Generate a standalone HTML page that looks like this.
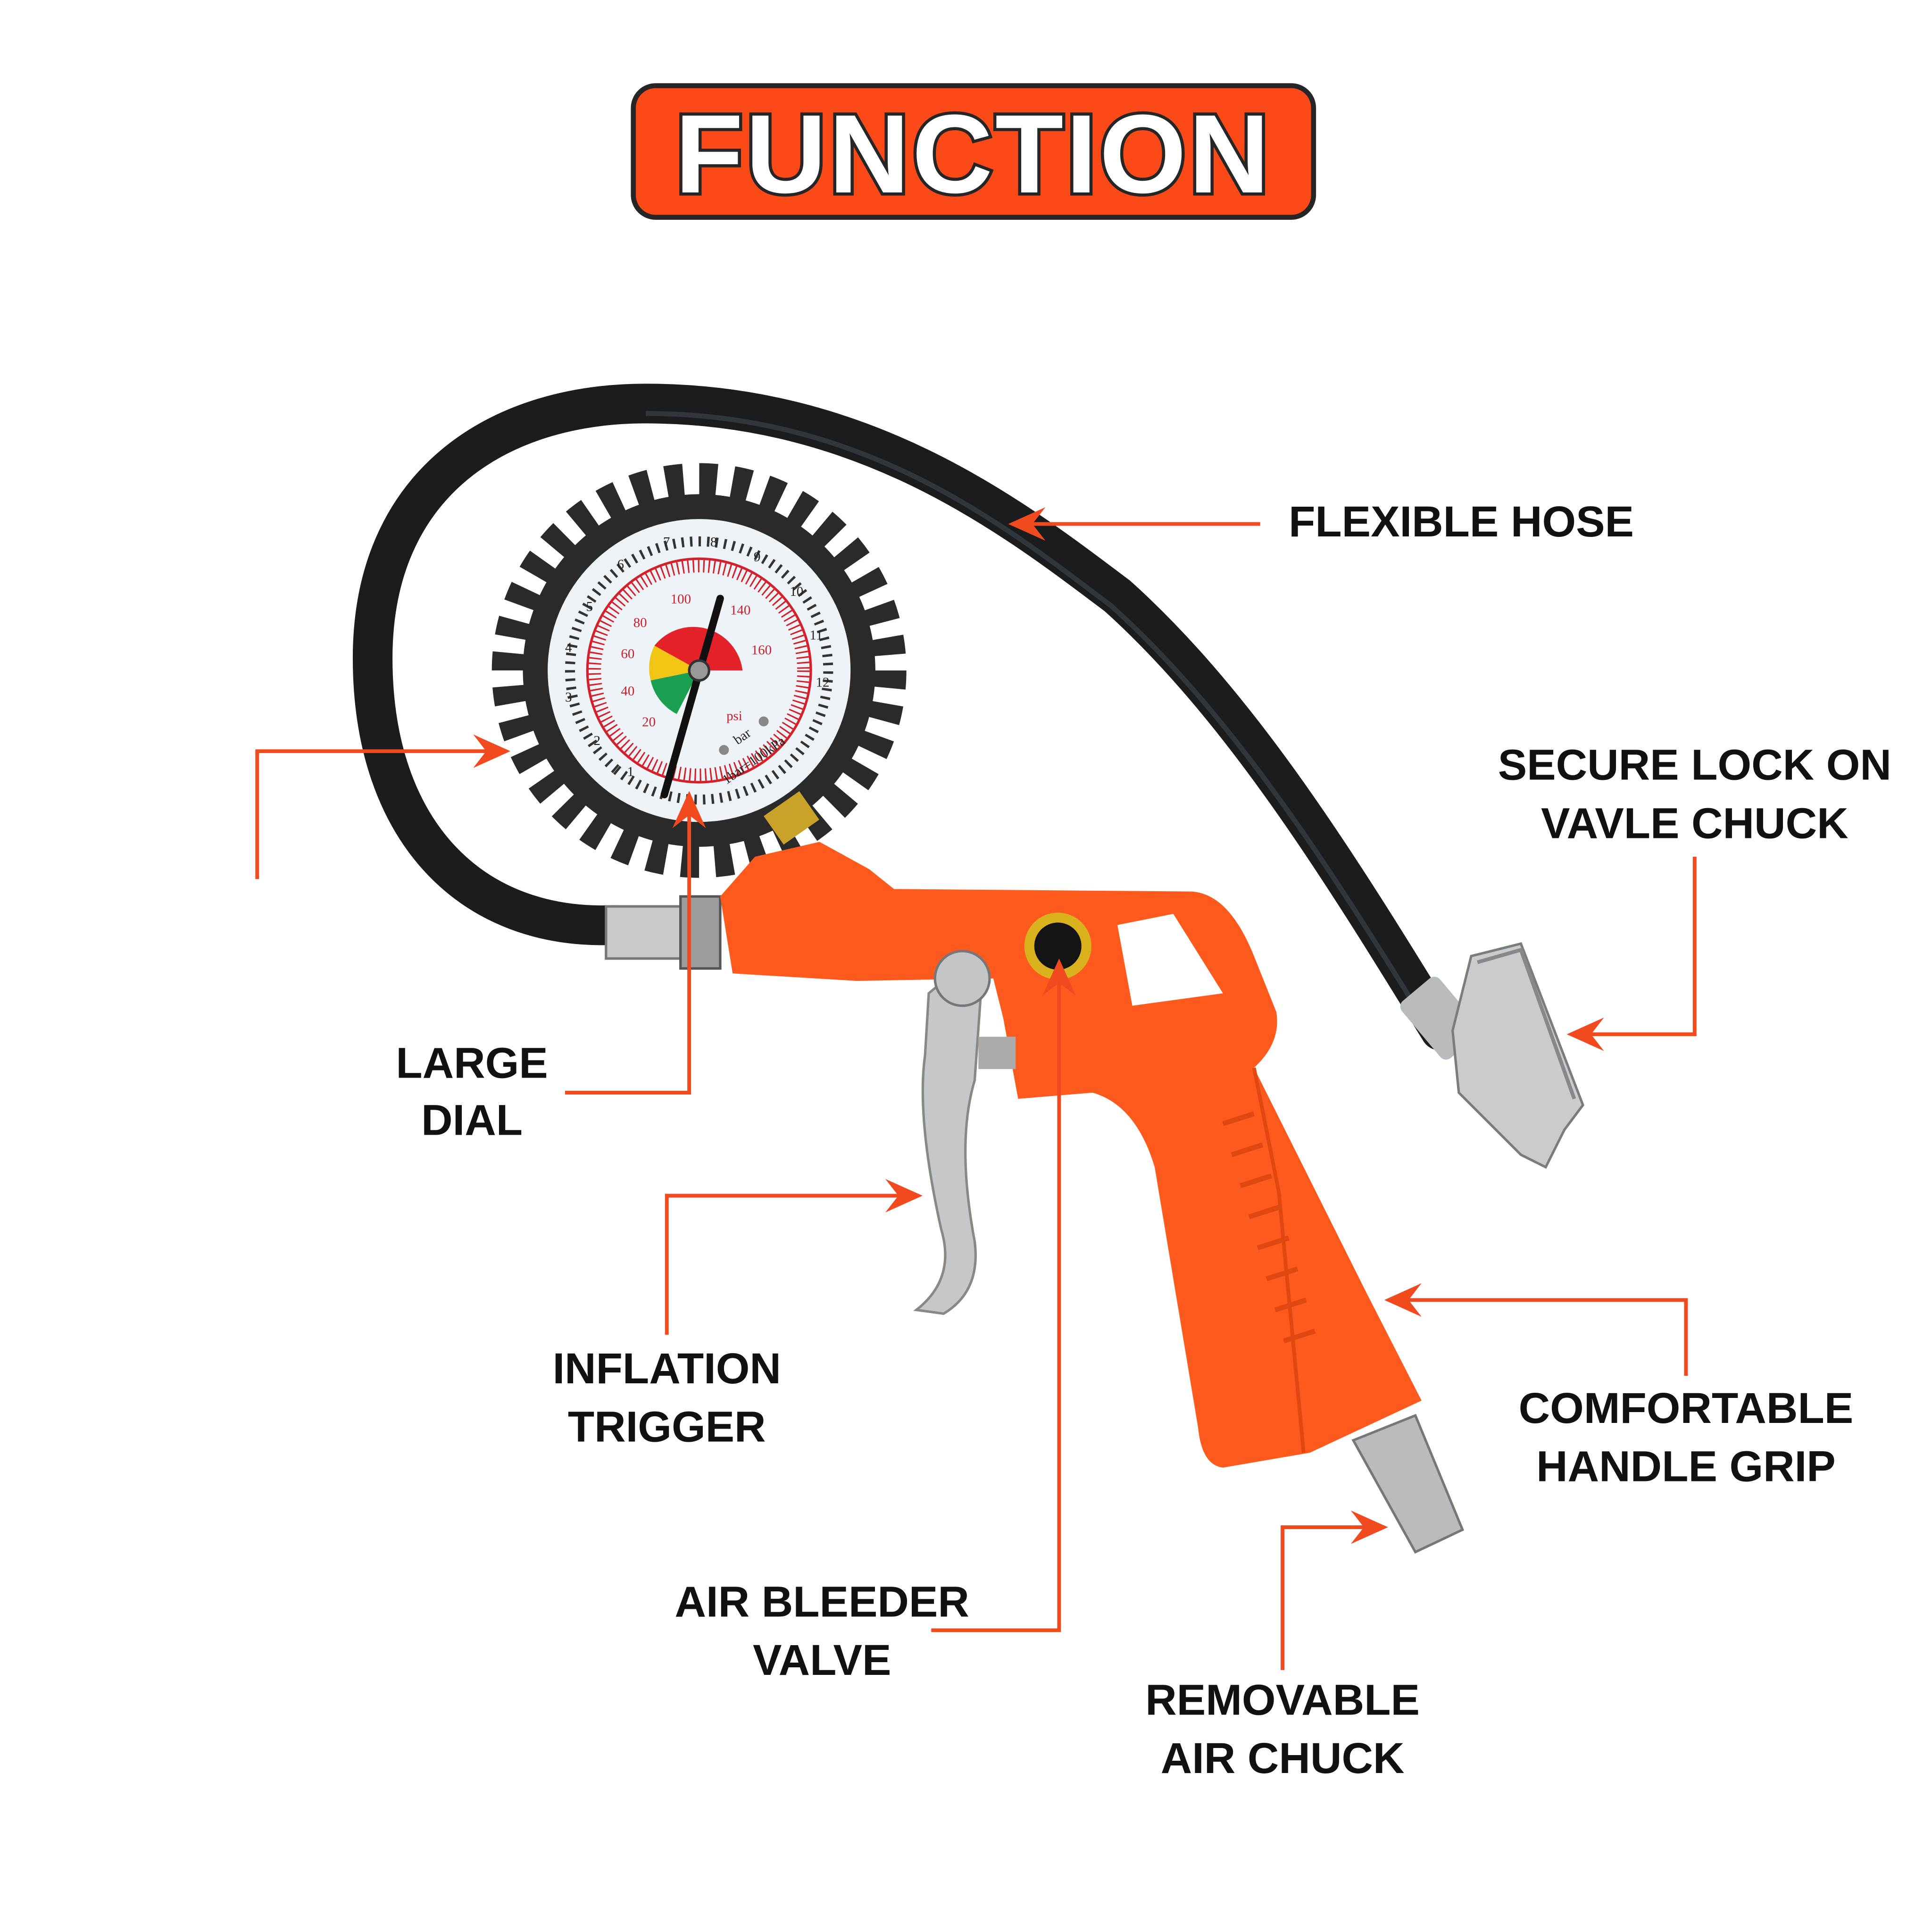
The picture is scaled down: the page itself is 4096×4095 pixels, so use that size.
<!DOCTYPE html>
<html><head><style>html,body{margin:0;padding:0;background:#fff}svg{display:block}</style></head>
<body>
<svg width="4096" height="4095" viewBox="0 0 1556 1556" xmlns="http://www.w3.org/2000/svg">
<defs>
<marker id="ah" viewBox="0 0 20 20" refX="18" refY="10" markerWidth="30" markerHeight="30" markerUnits="userSpaceOnUse" orient="auto">
<path d="M0,1 L20,10 L0,19 L7,10 Z" fill="#f04a1e"/></marker>
</defs>
<rect width="1556" height="1556" fill="#fff"/>
<!-- title -->
<rect x="510" y="69" width="548" height="106" rx="18" fill="#fb4a17" stroke="#262626" stroke-width="4"/>
<text x="784" y="155" text-anchor="middle" font-family="Liberation Sans, sans-serif" font-weight="bold" font-size="90" fill="#fff" stroke="#262626" stroke-width="5" paint-order="stroke" letter-spacing="2">FUNCTION</text>
<!-- hose -->
<path d="M495,745 C380,750 300,670 300,530 C300,390 400,325 520,325 C700,325 820,420 900,480 C1000,570 1080,700 1160,830" fill="none" stroke="#1a1c1e" stroke-width="32" stroke-linecap="round"/>
<path d="M520,333 C700,333 815,428 895,488 C995,578 1075,705 1152,830" fill="none" stroke="#3d4a52" stroke-width="4" opacity="0.6"/>
<!-- hose end chuck -->
<rect x="1130" y="800" width="60" height="40" rx="6" fill="#b9bcbe" transform="rotate(50 1160 820)"/>
<path d="M1185,770 L1225,760 L1275,890 L1260,910 L1245,940 L1225,930 L1175,880 L1170,830 Z" fill="#c9ccce" stroke="#7a7d80" stroke-width="2"/>
<path d="M1190,775 L1225,765 L1268,885" fill="none" stroke="#888" stroke-width="3"/>
<!-- left connector -->
<rect x="488" y="730" width="60" height="42" fill="#c6c8ca" stroke="#777" stroke-width="2"/>
<rect x="548" y="722" width="32" height="58" fill="#9a9c9e" stroke="#555" stroke-width="2"/>
<!-- gauge -->
<circle cx="563" cy="540" r="152" fill="none" stroke="#2a2a2a" stroke-width="30" stroke-dasharray="14 12.53"/>
<circle cx="563" cy="540" r="142" fill="#2a2a2a"/>
<circle cx="563" cy="540" r="122" fill="#eef3f8"/>
<circle cx="563" cy="540" r="104" fill="none" stroke="#333" stroke-width="8" stroke-dasharray="1.2 3" transform="rotate(130 563 540)" pathLength="400"/>
<circle cx="563" cy="540" r="84" fill="none" stroke="#d4202a" stroke-width="10" stroke-dasharray="1.2 3"/>
<circle cx="563" cy="540" r="90" fill="none" stroke="#d4202a" stroke-width="2"/>
<path d="M563,540 L527,520 A40,40 0 0 1 598,540 Z" fill="#e4222a"/>
<path d="M563,540 L527,520 A40,40 0 0 0 524,548 Z" fill="#f2c414"/>
<path d="M563,540 L524,548 A40,40 0 0 0 545,575 Z" fill="#18a050"/>
<line x1="580" y1="482" x2="535" y2="640" stroke="#111" stroke-width="6" stroke-linecap="round"/>
<circle cx="563" cy="540" r="8" fill="#999" stroke="#333" stroke-width="2"/>
<g font-family="Liberation Serif, serif" font-size="11" fill="#222">
<text x="534" y="440">7</text><text x="572" y="440">8</text><text x="607" y="452">9</text><text x="636" y="480">10</text><text x="652" y="515">11</text><text x="657" y="553">12</text>
<text x="497" y="458">6</text><text x="472" y="492">5</text><text x="455" y="525">4</text><text x="455" y="565">3</text><text x="478" y="600">2</text><text x="505" y="625">1</text>
</g>
<g font-family="Liberation Serif, serif" font-size="11" fill="#c8202a">
<text x="540" y="486">100</text><text x="510" y="505">80</text><text x="500" y="530">60</text><text x="500" y="560">40</text><text x="517" y="585">20</text><text x="588" y="495">140</text><text x="605" y="527">160</text><text x="585" y="580">psi</text>
</g>
<text x="585" y="632" font-family="Liberation Serif, serif" font-size="11" fill="#222" transform="rotate(-35 585 632)">1bar=100kPa</text>
<text x="594" y="600" font-family="Liberation Serif, serif" font-size="11" fill="#222" transform="rotate(-35 594 600)">bar</text>
<circle cx="583" cy="604" r="4" fill="#888"/><circle cx="615" cy="581" r="4" fill="#888"/>
<!-- brass -->
<rect x="620" y="645" width="35" height="28" fill="#c9a22a" transform="rotate(-35 637 659)"/>
<!-- gun body -->
<path d="M580,722 L608,690 L660,678 L700,700 L720,716 L960,718 Q990,720 1010,770 L1028,815 Q1032,840 1010,860 L1100,1040 L1145,1128 L1055,1170 L985,1182 Q968,1180 965,1150 L930,940 Q915,890 880,880 L820,885 L808,820 L800,788 L690,790 L590,784 Z" fill="#ff5a1e"/>
<path d="M900,745 L945,736 L985,800 L912,810 Z" fill="#fff"/>
<path d="M1050,1170 L1030,960 L1010,860" fill="none" stroke="#e04810" stroke-width="3"/>
<g fill="none" stroke="#e04812" stroke-width="4">
<path d="M985,905 l25,-8"/><path d="M992,930 l25,-8"/><path d="M999,955 l25,-8"/><path d="M1006,980 l25,-8"/><path d="M1013,1005 l25,-8"/><path d="M1020,1030 l25,-8"/><path d="M1027,1055 l25,-8"/><path d="M1034,1080 l25,-8"/>
</g>
<!-- bleeder -->
<circle cx="852" cy="762" r="27" fill="#d9b21e"/>
<circle cx="852" cy="762" r="19" fill="#141414"/>
<!-- coupling -->
<path d="M1090,1160 L1140,1140 L1178,1232 L1140,1250 Z" fill="#b9bcbe" stroke="#777" stroke-width="2"/>
<!-- trigger -->
<path d="M760,790 Q780,780 790,800 L785,870 Q770,920 785,1000 Q790,1040 760,1058 L738,1055 Q770,1030 758,990 Q738,900 745,850 L748,800 Z" fill="#c5c8cb" stroke="#888" stroke-width="2"/>
<circle cx="775" cy="788" r="22" fill="#c3c6c9" stroke="#777" stroke-width="2"/>
<rect x="788" y="835" width="30" height="26" fill="#aaa"/>
<!-- arrows -->
<g stroke="#f04a1e" stroke-width="3" fill="none">
<path d="M1015,422 L815,422" marker-end="url(#ah)"/>
<path d="M207,708 L207,605 L408,605" marker-end="url(#ah)"/>
<path d="M455,880 L555,880 L555,640" marker-end="url(#ah)"/>
<path d="M1365,690 L1365,833 L1265,833" marker-end="url(#ah)"/>
<path d="M537,1075 L537,963 L740,963" marker-end="url(#ah)"/>
<path d="M1358,1108 L1358,1047 L1118,1047" marker-end="url(#ah)"/>
<path d="M750,1313 L853,1313 L853,775" marker-end="url(#ah)"/>
<path d="M1033,1345 L1033,1230 L1115,1230" marker-end="url(#ah)"/>
</g>
<g font-family="Liberation Sans, sans-serif" font-weight="bold" font-size="35" fill="#111" text-anchor="middle">
<text x="1177" y="432">FLEXIBLE HOSE</text>
<text x="1365" y="628">SECURE LOCK ON</text><text x="1365" y="675">VAVLE CHUCK</text>
<text x="380" y="868">LARGE</text><text x="380" y="914">DIAL</text>
<text x="537" y="1114">INFLATION</text><text x="537" y="1161">TRIGGER</text>
<text x="1358" y="1146">COMFORTABLE</text><text x="1358" y="1193">HANDLE GRIP</text>
<text x="662" y="1302">AIR BLEEDER</text><text x="662" y="1349">VALVE</text>
<text x="1033" y="1381">REMOVABLE</text><text x="1033" y="1428">AIR CHUCK</text>
</g>
</svg>
</body></html>
